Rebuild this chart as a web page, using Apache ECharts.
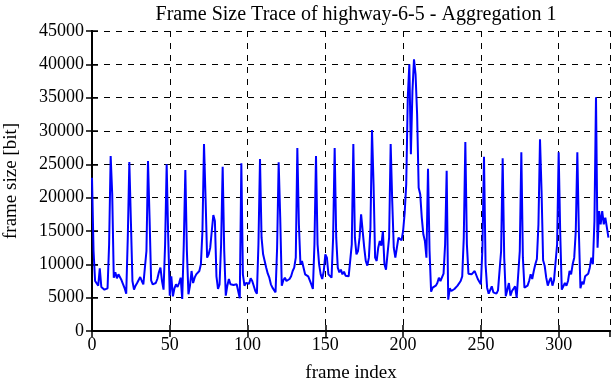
<!DOCTYPE html>
<html>
<head>
<meta charset="utf-8">
<script src="https://cdn.jsdelivr.net/npm/echarts@6/dist/echarts.min.js"></script>
<style>
  html, body { margin: 0; padding: 0; background: #fff; }
  #chart { width: 612px; height: 382px; }
</style>
</head>
<body>
<div id="chart"></div>
<script>
// frame sizes in bits, one value per frame (index = frame number)
const frameSizes = [
  23000, 12000, 7500, 7200, 6800, 9400, 6600, 6300, 6200, 6500, 6400, 13000,
  26250, 20500, 8000, 8800, 7900, 8500, 8200, 7600, 7000, 6400, 5600, 14000,
  25350, 16500, 7500, 6200, 6800, 7200, 7000, 8100, 7500, 7000, 7300, 12000,
  25500, 17000, 7600, 7000, 6800, 7200, 7800, 8800, 9500, 7500, 6200, 13000,
  25000, 14000, 5300, 8200, 5200, 6400, 7000, 6600, 7200, 8000, 4800, 13000,
  24150, 12000, 5500, 6800, 9000, 7200, 8000, 8500, 8200, 9000, 10000, 15000,
  28050, 20000, 11000, 11500, 12500, 15000, 17400, 16500, 8200, 6300, 7000, 13000,
  24650, 12000, 5300, 6800, 7800, 7000, 7200, 6900, 6700, 7000, 6800, 4900,
  25150, 8500, 6800, 7200, 7000, 7100, 7900, 7500, 7200, 6000, 5600, 13000,
  25800, 14000, 11500, 10500, 9500, 8600, 8000, 7000, 6500, 6200, 5800, 12500,
  25300, 17000, 6800, 7600, 8000, 7500, 7200, 7800, 8200, 9000, 9500, 11000,
  27450, 16000, 10000, 10500, 9500, 8500, 8800, 8200, 7600, 7000, 6300, 13000,
  26250, 13000, 10000, 8500, 7800, 9000, 11500, 11000, 8500, 8800, 8000, 14000,
  27450, 14000, 9500, 8800, 9200, 8500, 8900, 8300, 8600, 8200, 8400, 13000,
  28050, 14000, 11500, 12000, 14000, 17500, 17800, 12500, 10500, 9800, 11000, 15500,
  30150, 22000, 11000, 10500, 12500, 13500, 12800, 15000, 10000, 9200, 9000, 14000,
  28050, 19500, 12500, 11000, 10800, 14000, 14200, 13600, 15000, 17700, 22000, 35000,
  40000, 26500, 36000, 40750, 38500, 32500, 21500, 20500, 17000, 14500, 13500, 11000,
  24350, 12000, 5900, 6500, 6200, 6800, 7200, 8000, 7500, 7800, 8600, 13000,
  24050, 4700, 6400, 6000, 5800, 6300, 6600, 6800, 6500, 7500, 8200, 14000,
  28350, 13000, 8600, 8400, 8500, 8600, 9000, 8800, 7800, 7400, 7000, 12500,
  26150, 10000, 6500, 5600, 5400, 6700, 5800, 6000, 5600, 6100, 6400, 12000,
  25900, 11000, 5200, 6200, 7200, 5300, 6000, 5900, 6700, 5000, 4900, 12000,
  26800, 11000, 6500, 6200, 6800, 7500, 8500, 7800, 9000, 10000, 10800, 16000,
  28750, 21000, 10600, 9800, 8000, 6800, 7500, 8000, 6800, 7600, 7600, 13000,
  26800, 14700, 6200, 6300, 7200, 6800, 7500, 9000, 8500, 10000, 11000, 15000,
  26800, 14700, 6400, 7400, 7000, 8200, 8500, 8600, 9500, 11000, 10000, 16500,
  35050, 12500, 18000, 16000, 18000, 16000, 17000, 15500, 14000
];

const xRange = [0, 333];
const yRange = [0, 45000];
const FONT = 'Liberation Serif';

const chart = echarts.init(document.getElementById('chart'));

// gnuplot-like frame: inward ticks on all four sides, dashed black grid
const tickStyle = { show: true, inside: true, length: 6, lineStyle: { color: '#000', width: 1.5 } };
const lineStyle = { show: true, lineStyle: { color: '#000', width: 2 } };
const gridLines = { show: true, lineStyle: { color: '#000', width: 1, type: [6, 6] } };

const option = {
  animation: false,
  title: {
    text: 'Frame Size Trace of highway-6-5 - Aggregation 1',
    left: 351,
    top: 0,
    textAlign: 'center',
    textStyle: { fontFamily: FONT, fontSize: 20, fontWeight: 'normal', color: '#000' }
  },
  grid: { left: 92, right: 2, top: 31, bottom: 51, containLabel: false, outerBoundsMode: 'none' },
  xAxis: [
    {
      type: 'value',
      min: xRange[0],
      max: xRange[1],
      interval: 50,
      name: 'frame index',
      nameLocation: 'middle',
      nameGap: 33,
      nameTextStyle: { fontFamily: FONT, fontSize: 19, color: '#000' },
      axisLine: lineStyle,
      axisTick: tickStyle,
      splitLine: gridLines,
      axisLabel: { fontFamily: FONT, fontSize: 18, color: '#000', margin: 5, showMaxLabel: false }
    },
    {
      type: 'value',
      position: 'top',
      min: xRange[0],
      max: xRange[1],
      interval: 50,
      axisLine: lineStyle,
      axisTick: tickStyle,
      splitLine: { show: false },
      axisLabel: { show: false }
    }
  ],
  yAxis: [
    {
      type: 'value',
      min: yRange[0],
      max: yRange[1],
      interval: 5000,
      name: 'frame size [bit]',
      nameLocation: 'middle',
      nameGap: 71,
      nameTextStyle: { fontFamily: FONT, fontSize: 19, color: '#000' },
      axisLine: lineStyle,
      axisTick: tickStyle,
      splitLine: gridLines,
      axisLabel: { fontFamily: FONT, fontSize: 18, color: '#000', margin: 8, formatter: v => String(v) }
    },
    {
      type: 'value',
      position: 'right',
      min: yRange[0],
      max: yRange[1],
      interval: 5000,
      axisLine: lineStyle,
      axisTick: tickStyle,
      splitLine: { show: false },
      axisLabel: { show: false }
    }
  ],
  series: [{
    type: 'line',
    data: frameSizes.map((v, i) => [i, v]),
    showSymbol: false,
    lineStyle: { color: '#0000ff', width: 2 },
    z: 3
  }]
};

chart.setOption(option);
</script>
</body>
</html>
